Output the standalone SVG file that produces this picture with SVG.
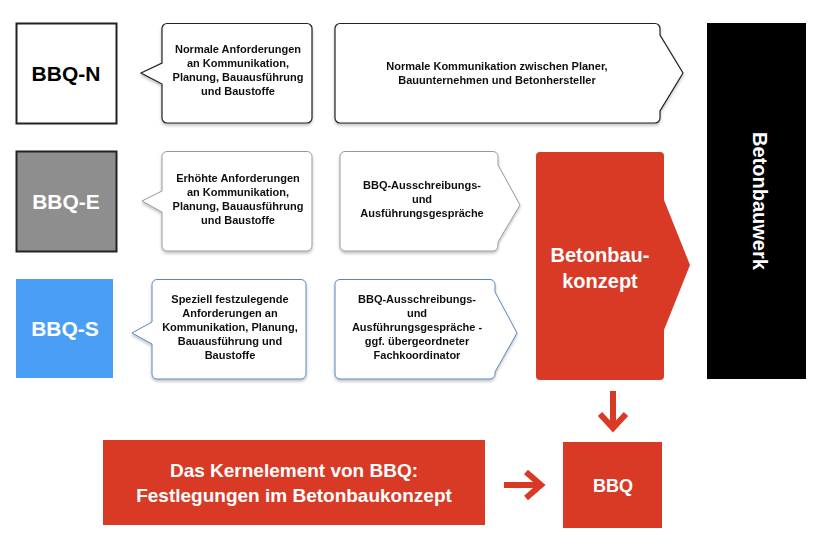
<svg xmlns="http://www.w3.org/2000/svg" width="827" height="548" viewBox="0 0 827 548">
<defs>
<style>
text{font-family:"Liberation Sans",Arial,sans-serif;font-weight:bold;text-anchor:middle}
.s{font-size:11px;fill:#111}
.big{font-size:21px}
.call{fill:#fff;stroke:#222;stroke-width:1.2}
.callg{fill:#fff;stroke:#999;stroke-width:1}
.callb{fill:#fff;stroke:#5a86c0;stroke-width:1}
.red{fill:#d93a26}
</style>
<filter id="sh" x="-5%" y="-5%" width="110%" height="115%"><feDropShadow dx="0" dy="2" stdDeviation="1.5" flood-opacity="0.25"/></filter>
</defs>
<rect width="827" height="548" fill="#fff"/>
<g id="bbq-n"><rect x="16.5" y="23.5" width="100" height="100" fill="#fff" stroke="#222" stroke-width="2"/><text x="66" y="81" class="big" fill="#000">BBQ-N</text></g>
<g id="bbq-e"><rect x="16.5" y="151.5" width="100" height="100" fill="#8e8e8e" stroke="#222" stroke-width="2"/><text x="66" y="209" class="big" fill="#fff">BBQ-E</text></g>
<g id="bbq-s"><rect x="16" y="279" width="97" height="99" fill="#4a9ff5"/><text x="65" y="336" class="big" fill="#fff">BBQ-S</text></g>
<g id="callout-n" filter="url(#sh)"><path class="call" d="M167,23.5 H307 a5,5 0 0 1 5,5 V118 a5,5 0 0 1 -5,5 H167 a5,5 0 0 1 -5,-5 V84 L141,73 L162,63 V28.5 a5,5 0 0 1 5,-5Z"/>
<text class="s"><tspan x="238" y="53">Normale Anforderungen</tspan><tspan x="238" y="67">an Kommunikation,</tspan><tspan x="238" y="81">Planung, Bauausführung</tspan><tspan x="238" y="95">und Baustoffe</tspan></text></g>
<g id="callout-e" filter="url(#sh)"><path class="callg" d="M167,151.5 H307 a5,5 0 0 1 5,5 V246 a5,5 0 0 1 -5,5 H167 a5,5 0 0 1 -5,-5 V212 L142,201 L162,191 V156.5 a5,5 0 0 1 5,-5Z"/>
<text class="s"><tspan x="238" y="182">Erhöhte Anforderungen</tspan><tspan x="238" y="196">an Kommunikation,</tspan><tspan x="238" y="210">Planung, Bauausführung</tspan><tspan x="238" y="224">und Baustoffe</tspan></text></g>
<g id="callout-s" filter="url(#sh)"><path class="callb" d="M157,279.5 H301 a5,5 0 0 1 5,5 V374 a5,5 0 0 1 -5,5 H157 a5,5 0 0 1 -5,-5 V344 L132,333 L152,322 V284.5 a5,5 0 0 1 5,-5Z"/>
<text class="s"><tspan x="230" y="303">Speziell festzulegende</tspan><tspan x="230" y="317">Anforderungen an</tspan><tspan x="230" y="331">Kommunikation, Planung,</tspan><tspan x="230" y="345">Bauausführung und</tspan><tspan x="230" y="359">Baustoffe</tspan></text></g>
<g id="komm-n" filter="url(#sh)"><path class="call" d="M340,23.5 H655 a5,5 0 0 1 5,5 V35 L683,73 L660,111 V118 a5,5 0 0 1 -5,5 H340 a5,5 0 0 1 -5,-5 V28.5 a5,5 0 0 1 5,-5Z"/>
<text class="s"><tspan x="497" y="70">Normale Kommunikation zwischen Planer,</tspan><tspan x="497" y="84">Bauunternehmen und Betonhersteller</tspan></text></g>
<g id="komm-e" filter="url(#sh)"><path class="callg" d="M345,151.5 H493 a5,5 0 0 1 5,5 V165 L520,205 L498,242 V246 a5,5 0 0 1 -5,5 H345 a5,5 0 0 1 -5,-5 V156.5 a5,5 0 0 1 5,-5Z"/>
<text class="s"><tspan x="422" y="189">BBQ-Ausschreibungs-</tspan><tspan x="422" y="203">und</tspan><tspan x="422" y="217">Ausführungsgespräche</tspan></text></g>
<g id="komm-s" filter="url(#sh)"><path class="callb" d="M340,279.5 H490 a5,5 0 0 1 5,5 V292 L517,333 L495,372 V374 a5,5 0 0 1 -5,5 H340 a5,5 0 0 1 -5,-5 V284.5 a5,5 0 0 1 5,-5Z"/>
<text class="s"><tspan x="417" y="303">BBQ-Ausschreibungs-</tspan><tspan x="417" y="317">und</tspan><tspan x="417" y="331">Ausführungsgespräche -</tspan><tspan x="417" y="345">ggf. übergeordneter</tspan><tspan x="417" y="359">Fachkoordinator</tspan></text></g>
<g id="konzept"><path class="red" d="M540,152 H660 a4,4 0 0 1 4,4 V200 L690,265 L664,330 V376 a4,4 0 0 1 -4,4 H540 a4,4 0 0 1 -4,-4 V156 a4,4 0 0 1 4,-4Z"/>
<text x="600" y="262" font-size="20" fill="#fff">Betonbau-</text><text x="600" y="288" font-size="20" fill="#fff">konzept</text></g>
<g id="bauwerk"><rect x="707" y="23" width="99" height="356" fill="#000"/><text transform="translate(753,201) rotate(90)" font-size="20" fill="#fff">Betonbauwerk</text></g>
<g id="kern"><rect class="red" x="103" y="440" width="382" height="85"/><text x="294" y="477" font-size="19" fill="#fff">Das Kernelement von BBQ:</text><text x="294" y="502" font-size="19" fill="#fff">Festlegungen im Betonbaukonzept</text></g>
<g id="bbq"><rect class="red" x="563" y="442" width="99" height="86"/><text x="613" y="492" font-size="18" fill="#fff">BBQ</text></g>
<g id="connectors" fill="none" stroke="#d93a26" stroke-width="6">
<path d="M613,391 V426"/><path d="M600,414 L613,428 L626,414"/>
<path d="M504,485 H539"/><path d="M526,472 L541,485 L526,498"/>
</g>
</svg>
